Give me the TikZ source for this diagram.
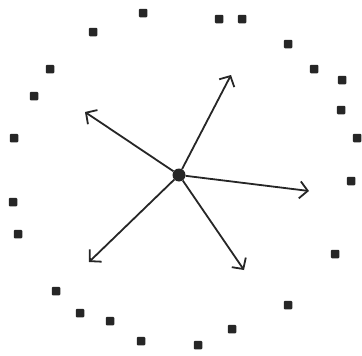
\documentclass[tikz,border=0pt]{standalone}
\usetikzlibrary{arrows.meta}
\begin{document}
\begin{tikzpicture}[x=1pt,y=-1pt,
  sq/.style={fill=black!85, draw=none, minimum size=8.5pt, inner sep=0pt, rectangle, rounded corners=1pt},
  vec/.style={draw=black!85, line width=1.8pt, -{Straight Barb[length=8pt,width=17pt,line width=1.8pt]}},
  ctr/.style={circle, fill=black!85, minimum size=13pt, inner sep=0pt}]
\useasboundingbox (0,0) rectangle (362,356);
\fill[white] (0,0) rectangle (362,356);
\foreach \x/\y [count=\i] in {143/13,93/32,50/69,34/96,14/138,219/19,242/19,288/44,314/69,342/80,341/110,357/138,13/202,18/234,56/291,80/313,110/321,141/341,351/181,335/254,288/305,232/329,198/345}
  \node[sq] (s\i) at (\x,\y) {};
\node[ctr] (c) at (179,175) {};
\coordinate (t1) at (85,112);
\coordinate (t2) at (231,75);
\coordinate (t3) at (309,191);
\coordinate (t4) at (244,270);
\coordinate (t5) at (89,262);
\foreach \t in {t1,t2,t3,t4,t5}
  \draw[vec] (c) -- (\t);
\end{tikzpicture}
\end{document}
